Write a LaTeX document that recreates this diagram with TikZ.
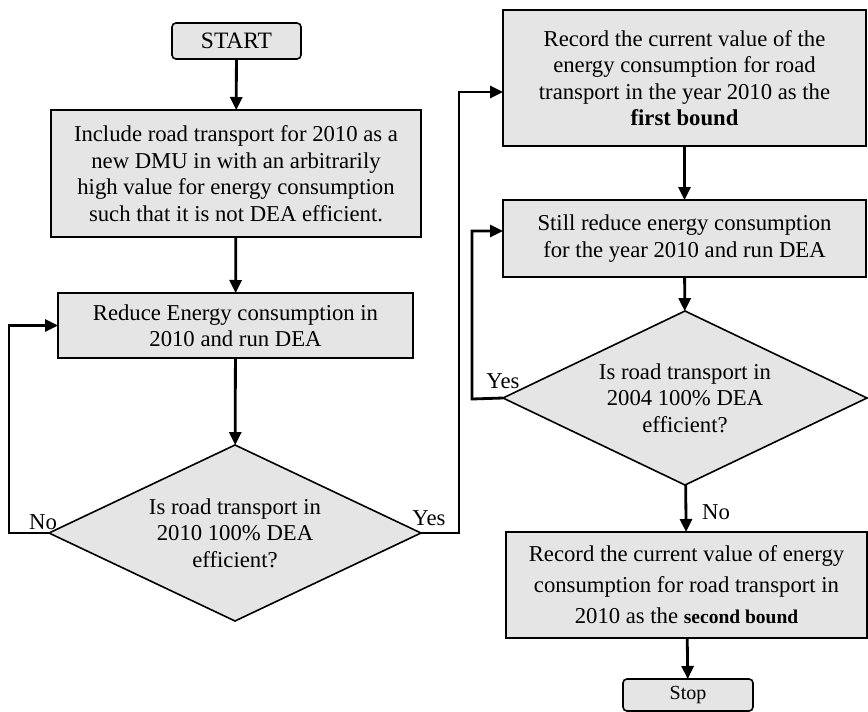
\documentclass[tikz,border=0pt]{standalone}
\usepackage{fontspec}
\setmainfont{Liberation Serif}
\usetikzlibrary{shapes.geometric,arrows.meta}
\begin{document}
\begin{tikzpicture}[x=1pt,y=-1pt,
  font=\fontsize{22.7}{26.5}\selectfont,
  procbox/.style={draw=black, line width=1.6pt, fill=black!10, rectangle, align=center, inner sep=0pt, outer sep=0pt},
  termbox/.style={procbox, rounded corners=4pt},
  decision/.style={draw=black, line width=1.6pt, fill=black!10, diamond, align=center, inner sep=0pt, outer sep=0pt},
  arr/.style={line width=2.8pt, -{Triangle[length=13pt,width=12pt]}},
  lbl/.style={inner sep=0pt}
]
\useasboundingbox (0,0) rectangle (868,712);

\node[termbox, minimum width=129pt, minimum height=36pt, font=\fontsize{23.5}{26}\selectfont] (start) at (236.5,41) {START};
\node[procbox, minimum width=370pt, minimum height=127pt] (b1) at (236,173.5)
  {Include road transport for 2010 as a\\ new DMU in with an arbitrarily\\ high value for energy consumption\\ such that it is not DEA efficient.};
\node[procbox, minimum width=355pt, minimum height=65pt] (b2) at (235.5,325.5)
  {Reduce Energy consumption in\\ 2010 and run DEA};
\node[decision, minimum width=372pt, minimum height=176pt, shape aspect=2.1] (d1) at (235,533)
  {Is road transport in\\ 2010 100\% DEA\\ efficient?};

\node[procbox, minimum width=363pt, minimum height=136pt] (b3) at (684.5,78)
  {Record the current value of the\\ energy consumption for road\\ transport in the year 2010 as the\\ \textbf{first bound}};
\node[procbox, minimum width=363pt, minimum height=77pt] (b4) at (684.5,238.5)
  {Still reduce energy consumption\\ for the year 2010 and run DEA};
\node[decision, minimum width=364pt, minimum height=174pt, shape aspect=2.1] (d2) at (685,398)
  {Is road transport in\\ 2004 100\% DEA\\ efficient?};
\node[procbox, minimum width=361pt, minimum height=106pt, font=\fontsize{22.7}{31}\selectfont] (b5) at (686.5,585)
  {Record the current value of energy\\ consumption for road transport in\\ 2010 as the {\bfseries\fontsize{19.5}{31}\selectfont second bound}};
\node[termbox, minimum width=130pt, minimum height=32pt, font=\fontsize{20}{22}\selectfont] (stop) at (688,695) {Stop};

\coordinate (yescorner) at (459,92);
\coordinate (nocorner) at (9,533);
\coordinate (yes2corner) at (472,399);
\coordinate (yes2top) at (472,231);

\draw[arr] (start) -- (b1);
\draw[arr] (b1) -- (b2);
\draw[arr] (b2) -- (d1);
\draw[arr] (d1.west) -- (nocorner) |- (b2.west);
\draw[arr] (d1.east) -| (yescorner) -- (b3.west |- yescorner);
\draw[arr] (b3) -- (b4);
\draw[arr] (b4) -- (d2);
\draw[arr] (d2.west) -- (yes2corner) -- (yes2top) -- (b4.west |- yes2top);
\draw[arr] (d2) -- (b5);
\draw[arr] (b5) -- (stop);

\node[lbl] (no1) at (43,522) {No};
\node[lbl] (yes1) at (429,518) {Yes};
\node[lbl] (yes2) at (503,381) {Yes};
\node[lbl] (no2) at (716,512) {No};
\end{tikzpicture}
\end{document}
